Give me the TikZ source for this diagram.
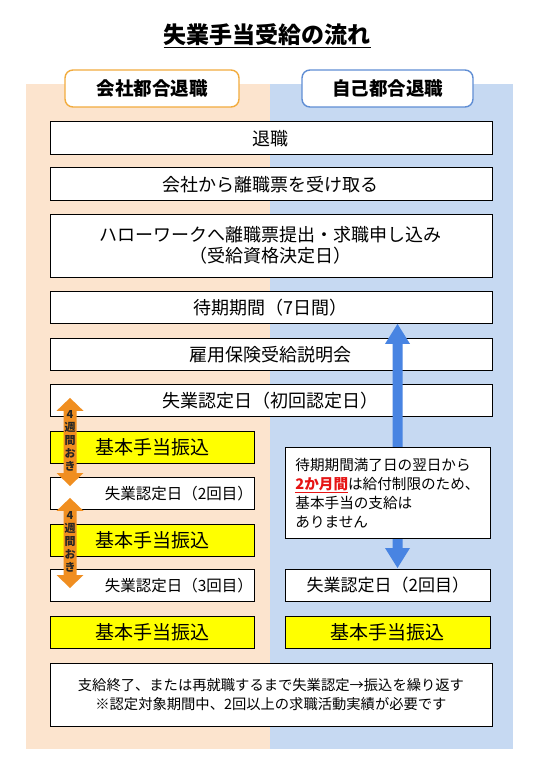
\documentclass[tikz,border=0pt]{standalone}
\usepackage{fontspec}
\setmainfont{Noto Sans CJK JP}
\usetikzlibrary{calc}
\definecolor{bgor}{RGB}{252,228,206}
\definecolor{bgbl}{RGB}{198,217,242}
\definecolor{hdor}{RGB}{242,172,62}
\definecolor{hdbl}{RGB}{96,142,212}
\definecolor{arror}{RGB}{240,142,32}
\definecolor{arrbl}{RGB}{72,132,226}
\definecolor{yel}{RGB}{255,255,0}
\definecolor{redtxt}{RGB}{230,20,20}
\newcommand{\dblarr}[6]{% start coord, end coord, head width, head length, shaft width, color
  \fill[#6] (#1) -- ($(#1)+(#3/2,#4)$) -- ($(#1)+(#5/2,#4)$) -- ($(#2)+(#5/2,-#4)$) -- ($(#2)+(#3/2,-#4)$)
    -- (#2) -- ($(#2)+(-#3/2,-#4)$) -- ($(#2)+(-#5/2,-#4)$) -- ($(#1)+(-#5/2,#4)$) -- ($(#1)+(-#3/2,#4)$) -- cycle;}
\begin{document}
\begin{tikzpicture}[x=1pt,y=-1pt,
  box/.style={draw=black, line width=0.9pt, fill=white, inner sep=0pt, anchor=north west,
    minimum height=32.5pt, align=center, font=\fontsize{18}{22}\selectfont},
  wide/.style={box, minimum width=442pt},
  half/.style={box, minimum width=204.5pt},
  ybox/.style={half, fill=yel, font=\fontsize{19}{22}\selectfont},
  cbox/.style={half, minimum height=32pt, text width=201.5pt, inner xsep=1.5pt, align=right,
    font=\fontsize{15.5}{18}\selectfont},
  hdr/.style={draw, line width=1.4pt, fill=white, rounded corners=8pt, minimum height=37pt,
    font=\fontsize{18.5}{22}\selectfont\bfseries},
  wk/.style={font=\fontsize{11}{13.2}\selectfont\bfseries, align=center, text=black!85, inner sep=0pt}
]
\useasboundingbox (0,0) rectangle (540,775);
\fill[white] (0,0) rectangle (540,775);
% background panels
\fill[bgor] (26,84) rectangle (270,749);
\fill[bgbl] (270,84) rectangle (513,749);
% title
\node[font=\fontsize{23}{26}\selectfont\bfseries] (title) at (267,36) {\underline{失業手当受給の流れ}};
% headers
\node[hdr, draw=hdor, minimum width=174pt] (hl) at (152,88.5) {会社都合退職};
\node[hdr, draw=hdbl, minimum width=171pt] (hr) at (387.5,88.5) {自己都合退職};
% common flow
\node[wide] (retire) at (49.5,121.5) {退職};
\node[wide] (receive) at (49.5,167.5) {会社から離職票を受け取る};
\node[wide, minimum height=62.5pt, font=\fontsize{18}{21}\selectfont] (hello) at (49.5,214)
  {ハローワークへ離職票提出・求職申し込み\\（受給資格決定日）};
\node[wide, minimum height=32pt] (wait) at (49.5,291) {待期期間（7日間）};
\node[wide] (expl) at (49.5,337.5) {雇用保険受給説明会};
\node[wide, minimum height=32pt] (first) at (49.5,384) {失業認定日（初回認定日）};
% left column
\node[ybox, minimum height=32pt] (lpay1) at (49.5,431) {基本手当振込};
\node[cbox] (lcert2) at (49.5,477) {失業認定日（2回目）};
\node[ybox] (lpay2) at (49.5,523.5) {基本手当振込};
\node[cbox] (lcert3) at (49.5,569) {失業認定日（3回目）};
\node[ybox, minimum height=32pt] (lpay3) at (49.5,616) {基本手当振込};
% right column
\node[box, minimum width=205pt, minimum height=32pt, font=\fontsize{17}{20}\selectfont] (rcert2) at (285,569) {失業認定日（2回目）};
\node[box, fill=yel, minimum width=205pt, minimum height=32pt, font=\fontsize{19}{22}\selectfont] (rpay) at (285,616) {基本手当振込};
% blue arrow (behind note)
\coordinate (bx) at (397.5,0);
\coordinate (btop) at (wait.south -| bx);
\coordinate (bbot) at ($(rcert2.north -| bx)+(0,-1)$);
\dblarr{btop}{bbot}{25}{20}{10}{arrbl}
% note box
\node[box, minimum width=205pt, minimum height=91pt, text width=185pt, inner xsep=10pt, align=left,
  font=\fontsize{14.6}{19}\selectfont] (note) at (285,447)
  {待期期間満了日の翌日から\\\textcolor{redtxt}{\bfseries\underline{2か月間}}は給付制限のため、\\基本手当の支給は\\ありません};
% final
\node[wide, minimum height=63pt, font=\fontsize{14.3}{18.5}\selectfont] (final) at (49.5,662.5)
  {支給終了、または再就職するまで失業認定→振込を繰り返す\\※認定対象期間中、2回以上の求職活動実績が必要です};
% orange arrows
\coordinate (ox) at (70,0);
\coordinate (o1t) at ($(first.south -| ox)+(0,-19)$);
\coordinate (o1b) at ($(lcert2.north -| ox)+(0,9)$);
\coordinate (o2t) at ($(lcert2.south -| ox)+(0,-12)$);
\coordinate (o2b) at ($(lcert3.north -| ox)+(0,19)$);
\dblarr{o1t}{o1b}{27}{13}{13}{arror}
\dblarr{o2t}{o2b}{27}{13}{13}{arror}
\node[wk] (w1) at ($(o1t)!0.5!(o1b)+(0,-1)$) {4\\週\\間\\お\\き};
\node[wk] (w2) at ($(o2t)!0.5!(o2b)+(0,-1)$) {4\\週\\間\\お\\き};
\end{tikzpicture}
\end{document}
